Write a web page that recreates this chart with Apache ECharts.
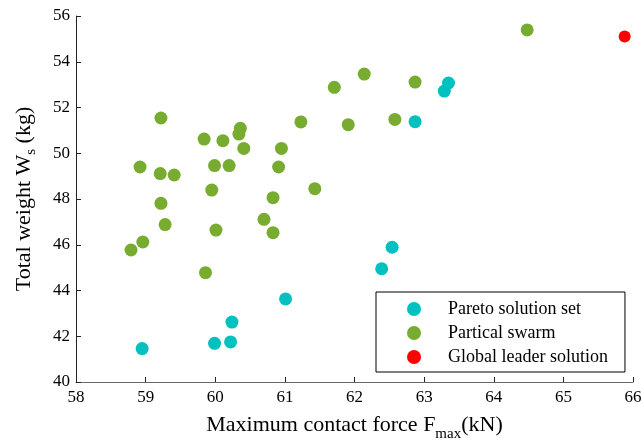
<!DOCTYPE html>
<html>
<head>
<meta charset="utf-8">
<script src="https://cdn.jsdelivr.net/npm/echarts@6/dist/echarts.min.js"></script>
<style>
  html, body { margin: 0; padding: 0; background: #fff; }
  #main { width: 641px; height: 443px; }
</style>
</head>
<body>
<div id="main"></div>
<script>
// Pareto solution set (cyan)
var paretoX = [58.95, 59.99, 60.22, 60.24, 61.01, 62.39, 62.54, 62.87, 63.29, 63.35];
var paretoY = [41.46, 41.69, 41.75, 42.62, 43.63, 44.95, 45.89, 51.38, 52.72, 53.07];

// Partical swarm (green)
var swarmX = [64.48, 62.14, 62.87, 61.71, 61.91, 62.58, 59.22, 61.23, 59.84, 60.11,
  60.36, 60.34, 60.41, 60.95, 58.92, 59.21, 59.41, 59.99, 60.20, 60.91,
  59.95, 61.43, 60.83, 59.22, 59.28, 60.70, 60.01, 60.83, 58.96, 58.79, 59.86];
var swarmY = [55.39, 53.46, 53.11, 52.88, 51.25, 51.48, 51.54, 51.37, 50.62, 50.55,
  51.09, 50.84, 50.21, 50.21, 49.40, 49.11, 49.05, 49.46, 49.46, 49.40,
  48.39, 48.45, 48.06, 47.81, 46.88, 47.11, 46.64, 46.53, 46.12, 45.77, 44.78];

// Global leader solution (red)
var leaderX = [65.88];
var leaderY = [55.10];

var xTicks = [58, 59, 60, 61, 62, 63, 64, 65, 66];
var yTicks = [40, 42, 44, 46, 48, 50, 52, 54, 56];

function pairs(xs, ys) {
  var out = [];
  for (var i = 0; i < xs.length; i++) out.push([xs[i], ys[i]]);
  return out;
}

var font = '"Liberation Serif", "Times New Roman", serif';

var chart = echarts.init(document.getElementById('main'));
var option = {
  animation: false,
  backgroundColor: '#fff',
  textStyle: { fontFamily: font },
  grid: { left: 76, right: 8, top: 16, bottom: 61, containLabel: false, outerBoundsMode: 'none' },
  legend: {
    orient: 'vertical',
    left: 376,
    top: 292,
    borderColor: '#000',
    borderWidth: 1,
    padding: [8, 17, 6, 31],
    itemGap: 6,
    itemWidth: 14,
    itemHeight: 14,
    icon: 'circle',
    textStyle: { fontFamily: font, fontSize: 18, color: '#000', padding: [0, 0, 0, 22] },
    data: ['Pareto solution set', 'Partical swarm', 'Global leader solution']
  },
  xAxis: {
    type: 'value',
    min: 58,
    max: 66,
    interval: 1,
    name: '{a|Maximum contact force F}{s|max}{a|(kN)}',
    nameLocation: 'middle',
    nameGap: 26,
    nameTextStyle: {
      rich: {
        a: { fontFamily: font, fontSize: 22, color: '#000' },
        s: { fontFamily: font, fontSize: 15, color: '#000', padding: [19, 0, 0, 0] }
      }
    },
    axisLine: { show: true, lineStyle: { color: '#666', width: 1.2 } },
    axisTick: { show: true, inside: true, length: 5, lineStyle: { color: '#222' } },
    axisLabel: {
      fontFamily: font, fontSize: 17, color: '#000', margin: 7,
      formatter: function (v) { return xTicks.indexOf(v) >= 0 ? String(v) : ''; }
    },
    splitLine: { show: false }
  },
  yAxis: {
    type: 'value',
    min: 40,
    max: 56,
    interval: 2,
    name: '{a|Total weight W}{s|s}{a| (kg)}',
    nameLocation: 'middle',
    nameGap: 37,
    nameRotate: 90,
    nameTextStyle: {
      rich: {
        a: { fontFamily: font, fontSize: 22, color: '#000' },
        s: { fontFamily: font, fontSize: 15, color: '#000', padding: [15, 0, 0, 0] }
      }
    },
    axisLine: { show: true, lineStyle: { color: '#222', width: 1 } },
    axisTick: { show: true, inside: true, length: 5, lineStyle: { color: '#222' } },
    axisLabel: {
      fontFamily: font, fontSize: 17, color: '#000', margin: 6,
      formatter: function (v) { return yTicks.indexOf(v) >= 0 ? String(v) : ''; }
    },
    splitLine: { show: false }
  },
  series: [
    {
      name: 'Pareto solution set',
      type: 'scatter',
      symbolSize: 13,
      itemStyle: { color: '#00c0c0', opacity: 1 },
      data: pairs(paretoX, paretoY)
    },
    {
      name: 'Partical swarm',
      type: 'scatter',
      symbolSize: 13,
      itemStyle: { color: '#77ac30', opacity: 1 },
      data: pairs(swarmX, swarmY)
    },
    {
      name: 'Global leader solution',
      type: 'scatter',
      symbolSize: 12,
      itemStyle: { color: '#ff0000', opacity: 1 },
      data: pairs(leaderX, leaderY)
    }
  ]
};
chart.setOption(option);
</script>
</body>
</html>
